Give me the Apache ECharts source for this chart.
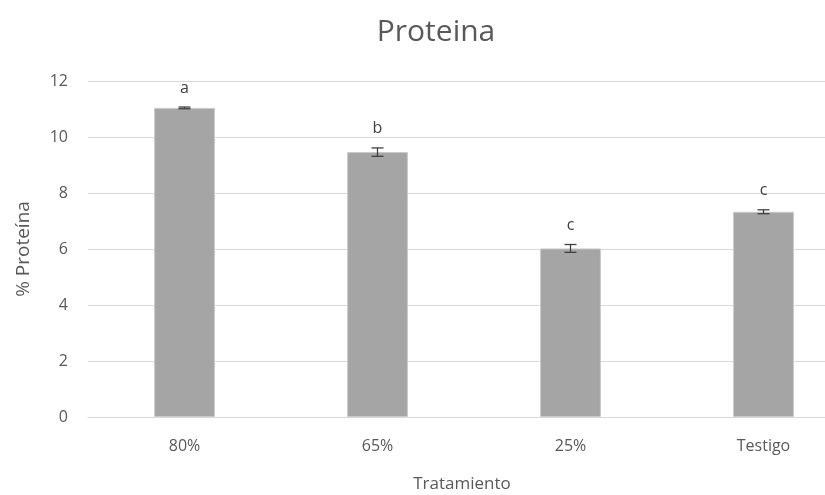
<!DOCTYPE html>
<html>
<head>
<meta charset="utf-8">
<script src="https://cdn.jsdelivr.net/npm/echarts@6/dist/echarts.min.js"></script>
<style>
  html, body { margin: 0; padding: 0; background: #fff; overflow: hidden; }
  #chart { width: 862px; height: 495px; }
</style>
</head>
<body>
<div id="chart"></div>
<script>
// Protein content per treatment, with standard error and significance letters
const categories = ['80%', '65%', '25%', 'Testigo'];
const proteinMeans = [11.04, 9.46, 6.02, 7.33];
const proteinErrors = [0.03, 0.15, 0.14, 0.07];
const groupLetters = ['a', 'b', 'c', 'c'];
const yTicks = [0, 2, 4, 6, 8, 10, 12];

const FONT = '"Open Sans", "DejaVu Sans", sans-serif';
const TEXT = '#595959';

const chart = echarts.init(document.getElementById('chart'), null, { renderer: 'canvas' });

const errorData = categories.map((c, i) => [i, proteinMeans[i], proteinErrors[i]]);

chart.setOption({
  animation: false,
  backgroundColor: '#ffffff',
  title: {
    text: 'Proteina',
    left: 431,
    top: 12,
    textAlign: 'center',
    textStyle: { fontFamily: FONT, fontSize: 30, fontWeight: 'normal', color: TEXT }
  },
  grid: { left: 88, top: 81, right: 2, height: 336, outerBoundsMode: 'none', containLabel: false },
  xAxis: {
    type: 'category',
    data: categories,
    name: 'Tratamiento',
    nameLocation: 'middle',
    nameGap: 59,
    nameTextStyle: { fontFamily: FONT, fontSize: 17, color: TEXT, padding: [0, 24, 0, 0] },
    axisLine: { lineStyle: { color: '#d9d9d9', width: 1 } },
    axisTick: { show: false },
    axisLabel: { fontFamily: FONT, fontSize: 16, color: TEXT, margin: 21 }
  },
  yAxis: {
    type: 'value',
    min: yTicks[0],
    max: yTicks[yTicks.length - 1],
    interval: 2,
    name: '% Proteína',
    nameLocation: 'middle',
    nameGap: 55,
    nameTextStyle: { fontFamily: FONT, fontSize: 19, color: TEXT },
    axisLine: { show: false },
    axisTick: { show: false },
    splitLine: { lineStyle: { color: '#d9d9d9', width: 1 } },
    axisLabel: { fontFamily: FONT, fontSize: 16, color: TEXT, margin: 20 }
  },
  series: [
    {
      type: 'bar',
      data: proteinMeans,
      barWidth: '31.5%',
      itemStyle: { color: '#a5a5a5', borderColor: '#c9c9c9', borderWidth: 1 },
      z: 2
    },
    {
      type: 'custom',
      data: errorData,
      z: 5,
      renderItem: function (params, api) {
        const idx = api.value(0);
        const mean = api.value(1);
        const err = api.value(2);
        const letter = groupLetters[params.dataIndex];
        const top = api.coord([idx, mean + err]);
        const bottom = api.coord([idx, mean - err]);
        const x = top[0];
        const cap = 6;
        const style = { stroke: '#404040', lineWidth: 1.3 };
        return {
          type: 'group',
          children: [
            { type: 'line', shape: { x1: x, y1: top[1], x2: x, y2: bottom[1] }, style: style },
            { type: 'line', shape: { x1: x - cap, y1: top[1], x2: x + cap, y2: top[1] }, style: style },
            { type: 'line', shape: { x1: x - cap, y1: bottom[1], x2: x + cap, y2: bottom[1] }, style: style },
            {
              type: 'text',
              x: x,
              y: top[1] - 11,
              style: {
                text: letter,
                fontFamily: FONT,
                fontSize: 16,
                fill: '#404040',
                align: 'center',
                verticalAlign: 'bottom'
              }
            }
          ]
        };
      }
    }
  ]
});
</script>
</body>
</html>
